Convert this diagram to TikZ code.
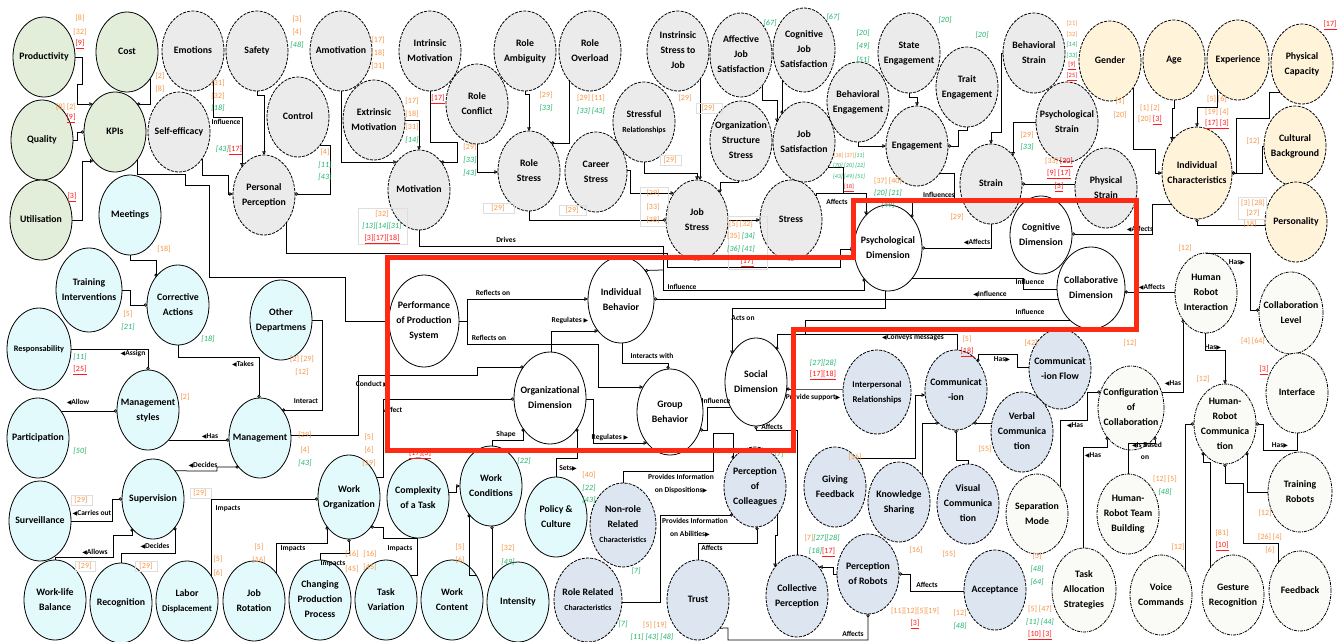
\documentclass[tikz,border=0pt]{standalone}
\usepackage{fontspec}
\setmainfont{Carlito}
\newfontfamily\djv{DejaVu Sans}
\usetikzlibrary{shapes.geometric,arrows.meta}
\definecolor{cgrn}{HTML}{E2EEDA}
\definecolor{cgry}{HTML}{EBEBEB}
\definecolor{ccy}{HTML}{E3FAFC}
\definecolor{cbl}{HTML}{DCE5F0}
\definecolor{cbe}{HTML}{FFF3DA}
\definecolor{cwr}{HTML}{FAFAF6}
\definecolor{cor}{HTML}{F79646}
\definecolor{cgr}{HTML}{1DB36A}
\definecolor{crd}{HTML}{FF1A1A}
\definecolor{redbox}{HTML}{FF2A14}
\newcommand\T[1]{\raisebox{-2.4pt}[0pt][0pt]{\makebox[0pt]{\begin{tabular}{@{}c@{}}#1\end{tabular}}}}
\newcommand\cO[1]{\textcolor{cor}{#1}}
\newcommand\cG[1]{\textcolor{cgr}{\textit{#1}}}
\newcommand\cR[1]{\textcolor{crd}{\underline{#1}}}
\newcommand\LTri{{\djv\fontsize{6}{6}\selectfont ◀}}
\newcommand\RTri{{\djv\fontsize{6}{6}\selectfont ▶}}
% border points of ellipses: node, offset, rx, ry
\newcommand\Bo[4]{([shift={(#2,{(#4)*sqrt(1-(#2)*(#2)/((#3)*(#3)))})}]#1.center)}
\newcommand\To[4]{([shift={(#2,{-(#4)*sqrt(1-(#2)*(#2)/((#3)*(#3)))})}]#1.center)}
\newcommand\Ri[4]{([shift={({(#3)*sqrt(1-(#2)*(#2)/((#4)*(#4)))},#2)}]#1.center)}
\newcommand\Le[4]{([shift={({-(#3)*sqrt(1-(#2)*(#2)/((#4)*(#4)))},#2)}]#1.center)}
\newcommand\bo[2]{\Bo{#1}{#2}{31}{40}}
\newcommand\tp[2]{\To{#1}{#2}{31}{40}}
\newcommand\ri[2]{\Ri{#1}{#2}{31}{40}}
\newcommand\lf[2]{\Le{#1}{#2}{31}{40}}
\newcounter{cc}
\newcommand\ct[2]{\stepcounter{cc}\node[cit] (c\arabic{cc}) at (#1) {#2};}
\newcounter{ll}
\newcommand\lab[2]{\stepcounter{ll}\node[lb] (l\arabic{ll}) at (#1) {#2};}
\tikzset{
  el/.style={ellipse, minimum width=62pt, minimum height=80pt, inner sep=0pt, outer sep=0pt,
    line width=0.8pt, font=\fontsize{9.8}{15}\selectfont\bfseries},
  gN/.style={el, draw=black, fill=cgrn},
  grN/.style={el, draw=black, fill=cgry, dash pattern=on 3pt off 1.2pt},
  cN/.style={el, draw=black, fill=ccy},
  bN/.style={el, draw=black, fill=cbl, dash pattern=on 3pt off 1.2pt},
  yN/.style={el, draw=black, fill=cbe, dash pattern=on 3pt off 1.2pt},
  wN/.style={el, draw=black, fill=white},
  rN/.style={el, draw=black, fill=cwr, dash pattern=on 3pt off 1pt on 1pt off 1pt},
  cit/.style={inner sep=0pt, font=\fontsize{8}{9}\selectfont},
  lb/.style={inner sep=0.5pt, font=\fontsize{7.5}{9}\selectfont\bfseries},
  pl/.style={draw=black, line width=0.75pt},
  ci/.style={pl, -{Circle[open,length=3.2pt,width=3.2pt]}},
  cs/.style={pl, {Circle[open,length=3.2pt,width=3.2pt]}-},
  tr/.style={pl, -{Triangle[open,length=3.6pt,width=3.6pt]}},
  fbox/.style={draw=black!13, line width=0.6pt},
}
\begin{document}
\begin{tikzpicture}[x=1pt,y=-1pt]
\useasboundingbox (0,0) rectangle (1338,642);
\fill[white] (0,0) rectangle (1338,642);
% ---------- green
\node[gN] (prod) at (44,57) {\T{Productivity}};
\node[gN] (cost) at (127,52) {\T{Cost}};
\node[gN] (qual) at (42,140) {\T{Quality}};
\node[gN] (kpi) at (115,132) {\T{KPIs}};
\node[gN] (util) at (41,220) {\T{Utilisation}};
% ---------- grey
\node[grN] (emo) at (193,51) {\T{Emotions}};
\node[grN] (saf) at (257,51) {\T{Safety}};
\node[grN] (amot) at (341,51) {\T{Amotivation}};
\node[grN] (ctrl) at (298,117) {\T{Control}};
\node[grN] (self) at (179,132) {\T{Self-efficacy}};
\node[grN] (pp) at (264,195) {\T{Personal\\Perception}};
\node[grN] (intr) at (430,51) {\T{Intrinsic\\Motivation}};
\node[grN] (extr) at (374,120) {\T{Extrinsic\\Motivation}};
\node[grN] (rconf) at (477,104) {\T{Role\\Conflict}};
\node[grN] (motiv) at (419,190) {\T{Motivation}};
\node[grN] (ramb) at (525,51) {\T{Role\\Ambiguity}};
\node[grN] (rover) at (590,51) {\T{Role\\Overload}};
\node[grN] (rstress) at (529,171) {\T{Role\\Stress}};
\node[grN] (cstress) at (596,172) {\T{Career\\Stress}};
\node[grN] (srel) at (644,122) {\T{Stressful\\{\fontsize{7.8}{10}\selectfont Relationships}}};
\node[grN] (isj) at (678,51) {\T{Instrinsic\\Stress to\\Job}};
\node[grN,minimum height=84pt] (ajs) at (741,55) {\T{Affective\\Job\\Satisfaction}};
\node[grN,minimum height=84pt] (cjs) at (804,50) {\T{Cognitive\\Job\\Satisfaction}};
\node[grN] (oss) at (741,141) {\T{Organization\\Structure\\Stress}};
\node[grN] (jsat) at (804,142) {\T{Job\\Satisfaction}};
\node[grN] (jstress) at (697,220) {\T{Job\\Stress}};
\node[grN] (stress) at (791,220) {\T{Stress}};
\node[grN] (beng) at (858,102) {\T{Behavioral\\Engagement}};
\node[grN] (seng) at (909,53) {\T{State\\Engagement}};
\node[grN] (teng) at (967,87) {\T{Trait\\Engagement}};
\node[grN] (eng) at (917,146) {\T{Engagement}};
\node[grN] (strain) at (991,184) {\T{Strain}};
\node[grN] (bstrain) at (1034,53) {\T{Behavioral\\Strain}};
\node[grN] (pstrain) at (1067,122) {\T{Psychological\\Strain}};
\node[grN] (phstrain) at (1106,188) {\T{Physical\\Strain}};
% ---------- beige
\node[yN] (gender) at (1110,61) {\T{Gender}};
\node[yN] (age) at (1174,60) {\T{Age}};
\node[yN] (exp) at (1238,60) {\T{Experience}};
\node[yN] (phcap) at (1302,64) {\T{Physical\\Capacity}};
\node[yN] (cult) at (1295,146) {\T{Cultural\\Background}};
\node[yN,minimum width=70pt,minimum height=92pt] (ic) at (1197,173) {\T{Individual\\Characteristics}};
\node[yN] (pers) at (1296,222) {\T{Personality}};
% ---------- cyan
\node[cN] (meet) at (130,215) {\T{Meetings}};
\node[cN,minimum width=66pt,minimum height=84pt] (train) at (89,290) {\T{Training\\Interventions}};
\node[cN] (corr) at (178,305) {\T{Corrective\\Actions}};
\node[cN,minimum width=64pt,minimum height=82pt,font=\fontsize{8.3}{12}\selectfont\bfseries] (resp) at (39,349) {\T{Responsability}};
\node[cN] (other) at (281,320) {\T{Other\\Departmens}};
\node[cN] (mstyle) at (148,410) {\T{Management\\styles}};
\node[cN] (mgmt) at (260,438) {\T{Management}};
\node[cN] (part) at (38,438) {\T{Participation}};
\node[cN] (sup) at (153,499) {\T{Supervision}};
\node[cN] (surv) at (40,521) {\T{Surveillance}};
\node[cN] (wlb) at (55,600) {\T{Work-life\\Balance}};
\node[cN] (recog) at (121,603) {\T{Recognition}};
\node[cN] (labor) at (187,601) {\T{Labor\\{\fontsize{8.8}{12}\selectfont Displacement}}};
\node[cN] (jrot) at (254,601) {\T{Job\\Rotation}};
\node[cN] (cpp) at (320,600) {\T{Changing\\Production\\Process}};
\node[cN,minimum height=84pt] (worg) at (349,497) {\T{Work\\Organization}};
\node[cN] (ctask) at (418,498) {\T{Complexity\\of a Task}};
\node[cN] (wcond) at (491,486) {\T{Work\\Conditions}};
\node[cN] (pol) at (556,517) {\T{Policy \&\\Culture}};
\node[cN] (tvar) at (386,600) {\T{Task\\Variation}};
\node[cN] (wcont) at (452,600) {\T{Work\\Content}};
\node[cN] (inten) at (518,602) {\T{Intensity}};
% ---------- blue
\node[bN,minimum width=66pt,minimum height=84pt] (nonrole) at (623,525) {\T{Non-role\\Related\\{\fontsize{7.8}{10}\selectfont Characteristics}}};
\node[bN,minimum width=68pt,minimum height=84pt] (role) at (588,600) {\T{Role Related\\{\fontsize{7.8}{10}\selectfont Characteristics}}};
\node[bN] (pcol) at (755,487) {\T{Perception\\of\\Colleagues}};
\node[bN] (trust) at (698,600) {\T{Trust}};
\node[bN,minimum height=82pt] (coll) at (797,596) {\T{Collective\\Perception}};
\node[bN] (prob) at (868,574) {\T{Perception\\of Robots}};
\node[bN] (gfb) at (835,487) {\T{Giving\\Feedback}};
\node[bN] (ksh) at (899,502) {\T{Knowledge\\Sharing}};
\node[bN] (vis) at (968,504) {\T{Visual\\Communica\\tion}};
\node[bN] (acc) at (995,590) {\T{Acceptance}};
\node[bN,minimum width=68pt,minimum height=84pt,font=\fontsize{8.8}{15}\selectfont\bfseries] (irel) at (877,392) {\T{Interpersonal\\Relationships}};
\node[bN] (comm) at (956,390) {\T{Communicat\\-ion}};
\node[bN] (cflow) at (1060,369) {\T{Communicat\\-ion Flow}};
\node[bN] (verb) at (1022,432) {\T{Verbal\\Communica\\tion}};
% ---------- white
\node[wN,minimum width=70pt,minimum height=92pt] (perf) at (424,321) {\T{Performance\\of Production\\System}};
\node[wN,minimum width=66pt,minimum height=86pt] (ib) at (621,300) {\T{Individual\\Behavior}};
\node[wN,minimum width=72pt,minimum height=92pt] (od) at (550,398) {\T{Organizational\\Dimension}};
\node[wN,minimum width=66pt,minimum height=86pt] (gb) at (670,412) {\T{Group\\Behavior}};
\node[wN,minimum width=62pt,minimum height=88pt] (sd) at (756,382) {\T{Social\\Dimension}};
\node[wN,minimum width=68pt,minimum height=86pt] (psy) at (888,248) {\T{Psychological\\Dimension}};
\node[wN,minimum width=62pt,minimum height=78pt] (cog) at (1041,235) {\T{Cognitive\\Dimension}};
\node[wN,minimum width=68pt,minimum height=82pt] (colab) at (1091,288) {\T{Collaborative\\Dimension}};
% ---------- right group
\node[rN] (hri) at (1206,293) {\T{Human\\Robot\\Interaction}};
\node[rN,minimum width=64pt,minimum height=82pt] (clevel) at (1291,313) {\T{Collaboration\\Level}};
\node[rN] (iface) at (1297,393) {\T{Interface}};
\node[rN,minimum width=66pt,minimum height=84pt] (config) at (1131,408) {\T{Configuration\\of\\Collaboration}};
\node[rN] (hrc) at (1225,424) {\T{Human-\\Robot\\Communica\\tion}};
\node[rN,minimum width=64pt] (trob) at (1300,492) {\T{Training\\Robots}};
\node[rN] (sep) at (1037,514) {\T{Separation\\Mode}};
\node[rN] (hrtb) at (1128,514) {\T{Human-\\Robot Team\\Building}};
\node[rN,minimum width=64pt,minimum height=84pt] (tas) at (1084,590) {\T{Task\\Allocation\\Strategies}};
\node[rN] (voice) at (1161,595) {\T{Voice\\Commands}};
\node[rN] (gest) at (1233,595) {\T{Gesture\\Recognition}};
\node[rN] (fb) at (1300,591) {\T{Feedback}};

% ================= connectors
\draw[tr] (prod.east) -- (82,57) -- (82,84) -- (77,84) -- (77,104) -- \lf{kpi}{-28};
\draw[ci] \bo{cost}{23} -- (150,104) -- \ri{kpi}{-28};
\draw[ci] (qual.east) -- (77,140) -- (77,132) -- (kpi.west);
\draw[tr] (util.east) -- (82,220) -- (82,161) -- \lf{kpi}{29};
\draw[tr] \bo{emo}{20} -- (213,117) -- (242,117) -- \tp{pp}{-22};
\draw[tr] \bo{self}{23} -- (202,175) -- (228,175) -- (228,194) -- \lf{pp}{-1};
\draw[tr] (saf.south) -- (257,95) -- (264,95) -- (pp.north);
\draw[ci] \ri{ctrl}{28} -- (330,145) -- (330,194) -- \ri{pp}{-1};
\draw[pl] \bo{kpi}{22} -- (137,174) -- (185,174) -- (185,185) -- (209,185) -- (209,277) -- (345,277) -- (345,321) -- (perf.west);
\draw[tr] \bo{pp}{22} -- (286,253) -- (667,253) -- (667,267) -- (840,267) -- (840,249) -- \Le{psy}{1}{34}{43};
\draw[ci] (motiv.south) -- (419,246) -- (663,246) -- (663,290) -- (864,290) -- \Bo{psy}{-24}{34}{43};
\draw[cs] \To{ib}{24}{33}{43} -- (663,270);
\draw[tr] (amot.south) -- (341,162) -- \lf{motiv}{-28};
\draw[tr] (extr.east) -- (419,120) -- (motiv.north);
\draw[ci] (intr.south) -- (430,142) -- (457,142) -- (457,162) -- \ri{motiv}{-28};
\draw[tr] (rconf.south) -- (477,172) -- \lf{rstress}{1};
\draw[tr] (ramb.south) -- (525,94) -- (529,94) -- (rstress.north);
\draw[ci] \bo{rover}{-21} -- (569,143) -- \ri{rstress}{-28};
\draw[tr] (srel.south) -- (644,173) -- (697,173) -- (jstress.north);
\draw[tr] \bo{isj}{22} -- \tp{jstress}{3};
\draw[tr] \ri{cstress}{-2} -- (630,170) -- (630,193) -- \lf{jstress}{-27};
\draw[ci] (rstress.south) -- (529,220) -- (jstress.west);
\draw[tr] \bo{oss}{-3} -- (738,182) -- (720,182) -- \tp{jstress}{23};
\draw[tr] \Bo{ajs}{21}{31}{42} -- (762,100) -- (777,100) -- \tp{jsat}{-27};
\draw[ci] \Bo{cjs}{-22}{31}{42} -- \tp{jsat}{-22};
\draw[tr] \bo{beng}{0} -- (858,146) -- (eng.west);
\draw[tr] (seng.south) -- (909,97) -- (917,97) -- (eng.north);
\draw[ci] (teng.south) -- (967,130) -- (958,130) -- (958,146) -- (eng.east);
\draw[ci] \ri{eng}{27} -- (954,173) -- (954,200) -- (912,200) -- \To{psy}{24}{34}{43};
\draw[tr] (bstrain.west) -- (1001,53) -- (1001,132) -- (991,132) -- (strain.north);
\draw[tr] (pstrain.west) -- (1013,122) -- \tp{strain}{22};
\draw[ci] \lf{phstrain}{-4} -- (strain.east);
\draw[ci] (strain.south) -- (991,248) -- (psy.east);
\draw[tr] (jstress.east) -- (stress.west);
\draw[tr] \ri{jsat}{25} -- (843,167) -- (843,193) -- (866,193) -- \To{psy}{-22}{34}{43};
\draw[pl] \tp{stress}{25} -- (816,193) -- (843,193);
\draw[tr] \bo{gender}{23} -- (1133,149) -- (1155,149) -- (1155,173) -- (ic.west);
\draw[tr] (age.south) -- (1174,108) -- (1172,108) -- \To{ic}{-25}{35}{46};
\draw[tr] \bo{exp}{-21} -- (1217,107) -- (1197,107) -- (ic.north);
\draw[ci] \lf{phcap}{28} -- (1269,92) -- (1269,118) -- (1236,118) -- (1236,173) -- (ic.east);
\draw[ci] (cult.west) -- (1262,146) -- (1262,173) -- (ic.east);
\draw[ci] \lf{pers}{3} -- (1197,225) -- (ic.south);
\draw[ci] \Le{ic}{31}{35}{46} -- (1152,204) -- (1152,234) -- \Ri{cog}{-1}{31}{39};
\draw[ci] \lf{hri}{-1} -- \Ri{colab}{4}{34}{41};
\draw[ci] (hri.north) -- (1250,253) -- (1250,310) -- \Le{clevel}{-3}{32}{41};
\draw[tr] \bo{hri}{-1} -- (1205,350) -- (1225,350) -- (hrc.north);
\draw[ci] \Ri{config}{-16}{33}{42} -- (1183,392) -- \bo{hri}{-23};
\draw[cs] \tp{comm}{22} -- (978,354) -- (1017,354) -- (1017,367) -- \lf{cflow}{-2};
\draw[ci] \tp{sep}{23} -- (1060,420) -- (1087,420) -- (1087,392) -- \Le{config}{-16}{33}{42};
\draw[ci] \To{tas}{-1}{32}{42} -- (1083,447) -- (1107,447) -- \Bo{config}{-24}{33}{42};
\draw[ci] (hrtb.north) -- (1128,443) -- (1155,443) -- \Bo{config}{24}{33}{42};
\draw[ci] \tp{voice}{24} -- (1185,424) -- (hrc.west);
\draw[ci] \tp{gest}{-23} -- (1210,462) -- (1203,462) -- \bo{hrc}{-22};
\draw[ci] \tp{fb}{-22} -- (1278,543) -- (1243,543) -- (1243,483) -- (1225,483) -- (hrc.south);
\draw[ci] (trob.west) -- (1247,492) -- \bo{hrc}{22};
\draw[cs] (hrc.east) -- (1263,424) -- (1263,450) -- (1297,450) -- (iface.south);
% cyan group
\draw[ci] (meet.south) -- (130,260) -- (156,260) -- \tp{corr}{-22};
\draw[ci] (train.east) -- (130,290) -- (130,305) -- (corr.west);
\draw[ci] (corr.south) -- (178,357) -- (259,357) -- \tp{mgmt}{-1};
\draw[ci] (resp.east) -- (148,349) -- (mstyle.north);
\draw[ci] \ri{part}{-27} -- \lf{mstyle}{1};
\draw[ci] (other.east) -- (322,320) -- (322,410) -- \ri{mgmt}{-28};
\draw[ci] \ri{mstyle}{30} -- \lf{mgmt}{2};
\draw[ci] \tp{sup}{22} -- (217,471) -- (217,467) -- \lf{mgmt}{29};
\draw[ci] (surv.east) -- (112,521) -- (112,499) -- (sup.west);
\draw[ci] (wlb.north) -- (55,557) -- (113,557) -- (113,535) -- (132,535) -- \bo{sup}{-21};
\draw[ci] (recog.north) -- (121,553) -- (175,553) -- \bo{sup}{22};
\draw[ci] \tp{labor}{24} -- (211,499) -- \Le{worg}{2}{31}{42};
\draw[ci] \tp{jrot}{22} -- (276,543) -- (327,543) -- \Bo{worg}{-22}{31}{42};
\draw[ci] (cpp.north) -- (320,553) -- (349,553) -- (worg.south);
\draw[ci] \ri{tvar}{-25} -- (417,575) -- (417,538) -- (383,538) -- (383,527) -- \Ri{worg}{30}{31}{42};
\draw[tr] \ri{ctask}{-6} -- (456,492) -- (456,486) -- (wcond.west);
\draw[ci] \tp{wcont}{24} -- (476,575) -- (469,575) -- \bo{wcond}{-22};
\draw[ci] \tp{inten}{-26} -- \bo{wcond}{1};
\draw[ci] \tp{wcond}{1} -- (492,440) -- (523,440) -- \Bo{od}{-27}{36}{46};
\draw[ci] (pol.north) -- (556,458) -- (577,458) -- \Bo{od}{27}{36}{46};
\draw[tr] \Ri{od}{1}{36}{46} -- (593,399) -- (593,443) -- \Le{gb}{31}{33}{43};
\draw[tr] (perf.east) -- (467,321) -- (467,299) -- \Le{ib}{-1}{33}{43};
\draw[tr] (perf.east) -- (467,321) -- (467,344) -- (598,344) -- (598,387) -- \Le{gb}{-25}{33}{43};
\draw[tr] \To{od}{1}{36}{46} -- (551,331) -- \Le{ib}{31}{33}{43};
\draw[ci] \Bo{ib}{1}{33}{43} -- (622,363) -- (668,363) -- \To{gb}{-2}{33}{43};
\draw[ci] \ri{mgmt}{-3} -- (358,435) -- (358,375) -- (477,375) -- (477,367) -- \Le{od}{-31}{36}{46};
\draw[ci] \Ri{worg}{-20}{31}{42} -- (383,477) -- (383,399) -- \Le{od}{1}{36}{46};
% social / perception
\draw[tr] \Bo{psy}{-3}{34}{43} -- (885,308) -- (732,308) -- \To{sd}{-24}{31}{44};
\draw[ci] \Le{colab}{11}{34}{41} -- \Ri{ib}{-1}{33}{43};
\draw[pl] \Le{colab}{1}{34}{41} -- (1023,289) -- (1023,278) -- \Ri{psy}{30}{34}{43};
\draw[pl] \Le{colab}{32}{34}{41} -- (805,320) -- (805,334);
\draw[ci] \tp{comm}{1} -- (957,334) -- (777,334) -- \To{sd}{21}{31}{44};
\draw[ci] \Le{irel}{-3}{34}{42} -- (797,389) -- \Ri{sd}{7}{31}{44};
\draw[ci] (coll.north) -- (797,430) -- (756,430) -- (sd.south);
\draw[ci] \Le{sd}{25}{31}{44} -- (707,407) -- (707,430) -- \Ri{gb}{18}{33}{43};
\draw[ci] (nonrole.north) -- (623,471) -- (713,471) -- (713,433) -- (733,433) -- \tp{pcol}{-22};
\draw[ci] \Ri{role}{2}{34}{42} -- (660,602) -- (660,515) -- \lf{pcol}{28};
\draw[ci] (trust.north) -- (698,543) -- (757,543) -- \bo{pcol}{2};
\draw[tr] \bo{pcol}{22} -- (777,535) -- (775,535) -- \To{coll}{-22}{31}{41};
\draw[tr] (prob.west) -- (833,574) -- (833,567) -- \Ri{coll}{-29}{31}{41};
\draw[ci] \lf{acc}{1} -- (910,591) -- (910,574) -- (prob.east);
\draw[ci] \bo{trust}{22} -- (728,628) -- (728,640) -- (868,640) -- (prob.south);
\draw[tr] \ri{gfb}{-29} -- (915,458) -- (915,395) -- \lf{comm}{5};
\draw[ci] \tp{ksh}{23} -- (922,423) -- \lf{comm}{33};
\draw[ci] (vis.north) -- (968,460) -- (956,460) -- (comm.south);
\draw[ci] \lf{verb}{-9} -- \ri{comm}{33};

% ================= faint boxes round some references
\draw[fbox] (483,203) rectangle (514,213);
\draw[fbox] (559,205) rectangle (586,215);
\draw[fbox] (660,155) rectangle (681,165);
\draw[fbox] (696,103) rectangle (722,113);
\draw[fbox] (640,187) rectangle (668,226);
\draw[fbox] (358,208) rectangle (407,244);
\draw[fbox] (728,216) rectangle (767,269);
\draw[fbox] (1238,197) rectangle (1266,219);
\draw[fbox] (71,495) rectangle (92,505);
\draw[fbox] (190,488) rectangle (211,498);
\draw[fbox] (75,561) rectangle (95,571);
\draw[fbox] (135,561) rectangle (157,571);

% ================= connector labels
\lab{226,122}{Influence}
\lab{506,240}{Drives}
\lab{682,287}{Influence}
\lab{493,293}{Reflects on}
\lab{570,321}{Regulates \RTri}
\lab{489,338}{Reflects on}
\lab{652,356}{Interacts with}
\lab{990,294}{\LTri Influence}
\lab{1030,282}{Influence}
\lab{1030,312}{Influence}
\lab{743,318}{Acts on}
\lab{977,242}{\LTri Affects}
\lab{1140,229}{\LTri Affects}
\lab{1152,287}{\LTri Affects}
\lab{837,202}{Affects}
\lab{939,195}{Influences}
\lab{1237,262}{Has\RTri}
\lab{1213,347}{Has\RTri}
\lab{1173,383}{\LTri Has}
\lab{1002,359}{Has\RTri}
\lab{913,338}{\LTri Conveys messages}
\lab{813,397}{Provide support\RTri}
\lab{716,401}{Influence}
\lab{772,427}{Affects}
\lab{372,384}{Conduct \RTri}
\lab{393,410}{Affect}
\lab{506,434}{Shape}
\lab{610,437}{Regulates \RTri}
\lab{568,468}{Sets\RTri}
\lab{681,477}{Provides Information}
\lab{681,490}{on Dispositions\RTri}
\lab{695,521}{Provides Information}
\lab{690,534}{on Abilities\RTri}
\lab{712,548}{Affects}
\lab{853,634}{Affects}
\lab{927,585}{Affects}
\lab{1075,425}{\LTri Has}
\lab{1093,455}{\LTri Has}
\lab{1147,445}{\LTri Is Based}
\lab{1145,458}{on}
\lab{1280,445}{Has\RTri}
\lab{243,364}{\LTri Takes}
\lab{133,354}{\LTri Assign}
\lab{78,402}{\LTri Allow}
\lab{306,401}{Interact}
\lab{210,436}{\LTri Has}
\lab{203,465}{\LTri Decides}
\lab{92,513}{\LTri Carries out}
\lab{95,552}{\LTri Allows}
\lab{155,546}{\LTri Decides}
\lab{228,509}{Impacts}
\lab{293,549}{Impacts}
\lab{333,564}{Impacts}
\lab{400,549}{Impacts}

% ================= citations
\ct{80,18}{\cO{[8]}}
\ct{80,32}{\cO{[32]}}
\ct{80,44}{\cR{[9]}}
\ct{160,76}{\cO{[2]}}
\ct{160,89}{\cO{[8]}}
\ct{66,107}{\cO{[8] [2]}}
\ct{71,118}{\cR{[9]}}
\ct{72,197}{\cR{[3]}}
\ct{218,83}{\cO{[31]}}
\ct{218,96}{\cO{[32]}}
\ct{218,108}{\cG{[18]}}
\ct{229,150}{\cG{[43]}\cR{[17]}}
\ct{297,19}{\cO{[3]}}
\ct{297,32}{\cO{[4]}}
\ct{297,45}{\cG{[48]}}
\ct{325,152}{\cO{[4]}}
\ct{325,165}{\cG{[11]}}
\ct{325,177}{\cG{[43]}}
\ct{378,40}{\cO{[17]}}
\ct{378,53}{\cO{[18]}}
\ct{378,66}{\cO{[31]}}
\ct{412,101}{\cO{[17]}}
\ct{412,114}{\cO{[18]}}
\ct{412,127}{\cO{[31]}}
\ct{412,140}{\cG{[14]}}
\ct{438,99}{\cR{[17]}}
\ct{470,147}{\cO{[29]}}
\ct{470,160}{\cG{[33]}}
\ct{470,173}{\cG{[43]}}
\ct{546,95}{\cO{[29]}}
\ct{546,108}{\cG{[33]}}
\ct{591,98}{\cO{[29] [11]}}
\ct{591,111}{\cG{[33] [43]}}
\ct{498,208}{\cO{[29]}}
\ct{572,210}{\cO{[29]}}
\ct{670,160}{\cO{[29]}}
\ct{685,98}{\cO{[29]}}
\ct{708,108}{\cO{[29]}}
\ct{653,193}{\cO{[29]}}
\ct{653,207}{\cO{[33]}}
\ct{653,220}{\cO{[38]}}
\ct{382,214}{\cO{[32]}}
\ct{382,226}{\cG{[13][14][31]}}
\ct{382,239}{\cR{[3][17][18]}}
\ct{770,23}{\cG{[67]}}
\ct{833,17}{\cG{[67]}}
\ct{863,33}{\cG{[20]}}
\ct{863,46}{\cG{[49]}}
\ct{863,60}{\cG{[51]}}
\ct{945,20}{\cG{[20]}}
\ct{982,35}{\cG{[20]}}
\ct{849,156}{\fontsize{6}{7}\selectfont\cO{[38] [37]}\cG{[11]}}
\ct{849,166}{\fontsize{6}{7}\selectfont\cG{[70] [20] [22]}}
\ct{849,177}{\fontsize{6}{7}\selectfont\cG{[43] [49] [51]}}
\ct{849,188}{\fontsize{6}{7}\selectfont\cR{[18]}}
\ct{888,181}{\cO{[37] [40]}}
\ct{888,193}{\cG{[20] [21]}}
\ct{888,205}{\cG{[49]}}
\ct{957,217}{\cO{[29]}}
\ct{1072,24}{\fontsize{6.5}{7}\selectfont\cO{[21]}}
\ct{1072,35}{\fontsize{6.5}{7}\selectfont\cO{[32]}}
\ct{1072,45}{\fontsize{6.5}{7}\selectfont\cG{[14]}}
\ct{1072,56}{\fontsize{6.5}{7}\selectfont\cG{[33]}}
\ct{1072,66}{\fontsize{6.5}{7}\selectfont\cR{[9]}}
\ct{1072,77}{\fontsize{6.5}{7}\selectfont\cR{[25]}}
\ct{1120,101}{\cO{[1]}}
\ct{1120,115}{\cO{[20]}}
\ct{1150,108}{\cO{[1] [2]}}
\ct{1150,120}{\cO{[20]} \cR{[3]}}
\ct{1217,99}{\cO{[5] [6]}}
\ct{1217,112}{\cO{[19] [4]}}
\ct{1217,124}{\cR{[17] [3]}}
\ct{1330,25}{\cR{[17]}}
\ct{1253,141}{\cO{[12]}}
\ct{1027,135}{\cO{[29]}}
\ct{1027,147}{\cG{[33]}}
\ct{1059,162}{\cO{[33]} \cR{[30]}}
\ct{1059,174}{\cR{[9] [17]}}
\ct{1059,187}{\cR{[3]}}
\ct{1253,203}{\cO{[3] [28]}}
\ct{1253,213}{\cO{[27]}}
\ct{1250,224}{\cO{[18]}}
\ct{164,249}{\cO{[18]}}
\ct{128,314}{\cO{[5]}}
\ct{128,327}{\cG{[21]}}
\ct{208,339}{\cG{[18]}}
\ct{80,357}{\cG{[11]}}
\ct{80,370}{\cR{[25]}}
\ct{185,397}{\cO{[2]}}
\ct{302,359}{\cO{[2] [29]}}
\ct{302,372}{\cO{[12]}}
\ct{741,224}{\cO{[5] [32]}}
\ct{741,236}{\cO{[35]} \cG{[34]}}
\ct{741,249}{\cG{[36] [41]}}
\ct{747,262}{\cR{[17]}}
\ct{823,363}{\cG{[27][28]}}
\ct{823,375}{\cR{[17][18]}}
\ct{967,339}{\cO{[5]}}
\ct{967,352}{\cR{[18]}}
\ct{1185,248}{\cO{[12]}}
\ct{1031,343}{\cO{[42]}}
\ct{1130,343}{\cO{[12]}}
\ct{1253,341}{\cO{[4] [64]}}
\ct{1264,370}{\cR{[3]}}
\ct{1203,379}{\cO{[12]}}
\ct{80,451}{\cG{[50]}}
\ct{305,435}{\cO{[29]}}
\ct{305,450}{\cO{[4]}}
\ct{305,463}{\cG{[43]}}
\ct{81,500}{\cO{[29]}}
\ct{200,493}{\cO{[29]}}
\ct{85,566}{\cO{[29]}}
\ct{146,566}{\cO{[29]}}
\ct{218,559}{\cO{[5]}}
\ct{218,573}{\cO{[6]}}
\ct{259,547}{\cO{[5]}}
\ct{259,560}{\cO{[16]}}
\ct{352,554}{\cO{[16]}}
\ct{352,569}{\cO{[45]}}
\ct{370,554}{\cO{[16]}}
\ct{370,567}{\cO{[45]}}
\ct{369,437}{\cO{[5]}}
\ct{369,450}{\cO{[6]}}
\ct{369,463}{\cO{[19]}}
\ct{420,454}{\cR{[17][3]}}
\ct{524,461}{\cG{[22]}}
\ct{589,475}{\cO{[40]}}
\ct{589,488}{\cG{[22]}}
\ct{589,500}{\cG{[43]}}
\ct{460,547}{\cO{[5]}}
\ct{460,560}{\cO{[6]}}
\ct{508,548}{\cO{[32]}}
\ct{508,562}{\cG{[49]}}
\ct{636,571}{\cG{[7]}}
\ct{623,624}{\cG{[7]}}
\ct{655,625}{\cO{[5] [19]}}
\ct{652,637}{\cG{[11] [43] [48]}}
\ct{779,454}{\cG{[7]}}
\ct{855,457}{\cO{[16]}}
\ct{985,449}{\cO{[55]}}
\ct{822,538}{\cO{[7]}\cG{[27][28]}}
\ct{822,552}{\cG{[18]}\cR{[17]}}
\ct{916,550}{\cO{[16]}}
\ct{949,554}{\cO{[55]}}
\ct{915,611}{\cO{[11][12][5][19]}}
\ct{915,624}{\cR{[3]}}
\ct{960,613}{\cO{[12]}}
\ct{960,626}{\cG{[48]}}
\ct{1165,479}{\cO{[12] [5]}}
\ct{1165,492}{\cG{[48]}}
\ct{1037,556}{\cO{[3]}}
\ct{1037,569}{\cG{[48]}}
\ct{1037,582}{\cG{[64]}}
\ct{1040,609}{\cO{[5] [47]}}
\ct{1040,622}{\cG{[11] [44]}}
\ct{1040,635}{\cR{[10] [3]}}
\ct{1178,547}{\cO{[12]}}
\ct{1222,533}{\cO{[81]}}
\ct{1222,546}{\cR{[10]}}
\ct{1270,537}{\cO{[26] [4]}}
\ct{1270,550}{\cO{[6]}}
\ct{1265,513}{\cO{[12]}}

% ================= red outline
\draw[redbox, line width=5pt, line join=miter] (387,257) -- (853,257) -- (853,200) -- (1136,200) -- (1136,329) -- (793,329) -- (793,450) -- (387,450) -- cycle;
\end{tikzpicture}
\end{document}
